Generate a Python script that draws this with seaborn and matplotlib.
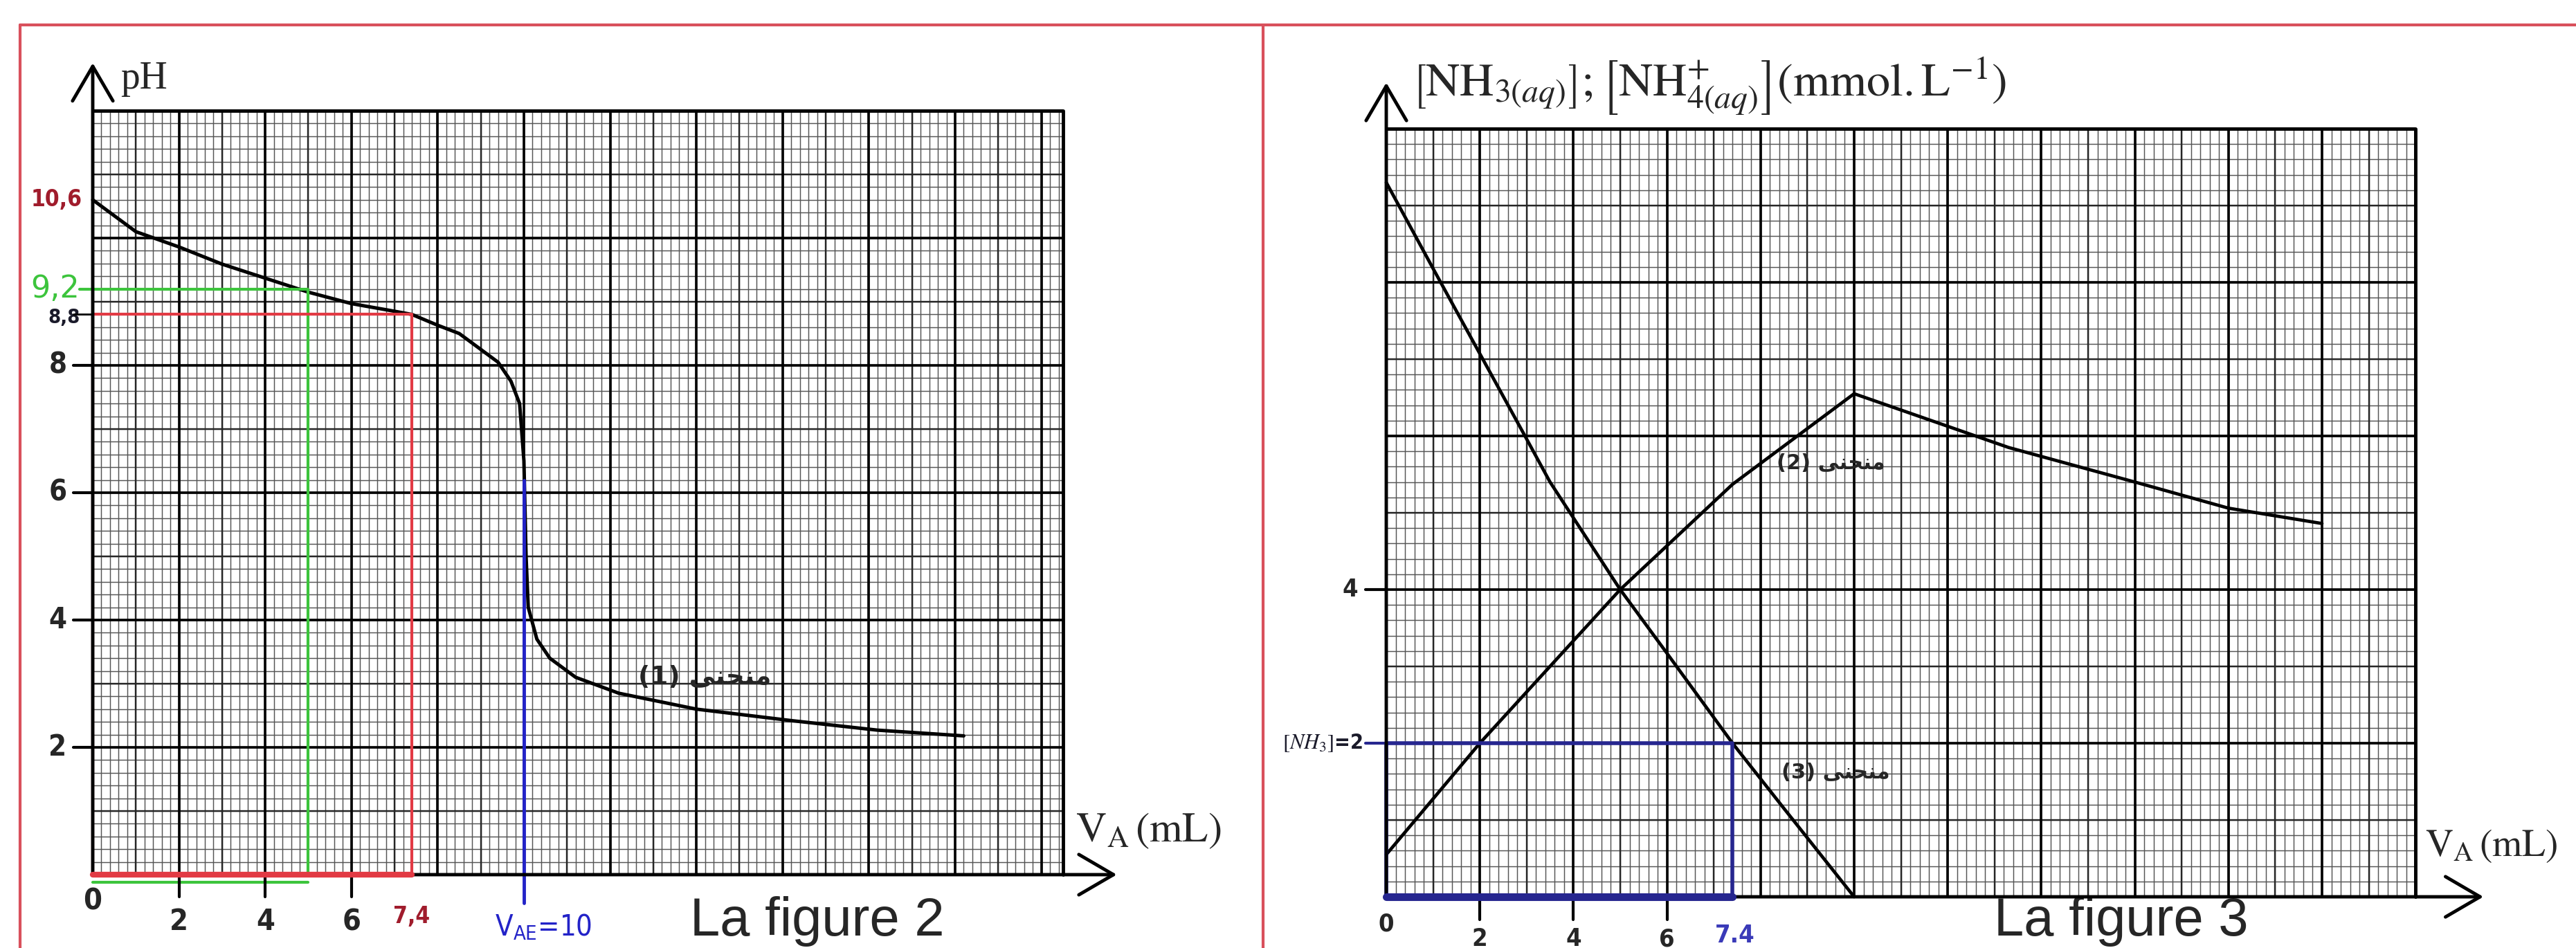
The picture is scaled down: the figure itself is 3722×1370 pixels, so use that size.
import numpy as np
import matplotlib
matplotlib.use("Agg")
import matplotlib.pyplot as plt
import seaborn as sns
import pandas as pd
from matplotlib.lines import Line2D

# --- figure 2 : pH = f(V_A) ---
v_ph = [0, 1, 2, 3, 4, 5, 6, 7, 7.4, 8, 8.5, 9, 9.4, 9.7, 9.9, 10.0, 10.05, 10.1,
        10.3, 10.6, 11.2, 12.2, 14, 16.2, 18.2, 20.2]
ph = [10.6, 10.1, 9.86, 9.59, 9.37, 9.15, 8.97, 8.85, 8.8, 8.63, 8.5, 8.25, 8.05,
      7.75, 7.4, 6.5, 5.0, 4.2, 3.7, 3.4, 3.1, 2.85, 2.6, 2.42, 2.27, 2.18]
ph_half, v_half = 9.2, 5
ph_mark, v_mark = 8.8, 7.4
v_eq = 10
ph_ticks = [2, 4, 6, 8]
v_ticks = [0, 2, 4, 6]

# --- figure 3 : [NH3] and [NH4+] = f(V_A) ---
v_nh3 = [0, 1, 2, 3, 3.5, 5, 6, 7.4, 8.5, 10]
c_nh3 = [9.3, 8.18, 7.07, 5.96, 5.4, 4.0, 3.17, 2.0, 1.15, 0.0]
v_nh4 = [0, 2, 5, 7.4, 10, 13.3, 16, 18, 20]
c_nh4 = [0.55, 2.0, 4.0, 5.37, 6.55, 5.85, 5.4, 5.06, 4.86]
c_mark, v_mark3 = 2, 7.4
c_ticks = [4]

sns.set_style("white")
plt.rcParams['font.family'] = ['DejaVu Sans']
plt.rcParams['mathtext.fontset'] = 'stix'

W, H = 3723, 1370
fig = plt.figure(figsize=(W / 100, H / 100), dpi=100)
fig.patch.set_facecolor('white')


def place(x0, y0, sx, sy, xlim, ylim):
    # x0, y0 = pixel of data origin (y from top), sx, sy = pixels per unit
    left = x0 + xlim[0] * sx
    right = x0 + xlim[1] * sx
    top = y0 - ylim[1] * sy
    bottom = y0 - ylim[0] * sy
    ax = fig.add_axes([left / W, 1 - bottom / H, (right - left) / W, (bottom - top) / H])
    ax.set_xlim(xlim)
    ax.set_ylim(ylim)
    ax.axis('off')
    return ax


def paper(ax, xmax, ymax):
    # millimetre paper: fine, medium and major lines
    for step, col, lw in [(0.2, '#555555', 1.05), (1, '#262626', 1.7), (2, '#000000', 2.6)]:
        xs = np.arange(0, xmax + 1e-6, step)
        ys = np.arange(0, ymax + 1e-6, step)
        ax.vlines(xs, 0, ymax, colors=col, lw=lw, zorder=1)
        ax.hlines(ys, 0, xmax, colors=col, lw=lw, zorder=1)
    ax.plot([0, xmax, xmax], [ymax, ymax, 0], color='k', lw=3.5, zorder=2)


def arrows(ax, xtip, ytip):
    props = dict(arrowstyle='->,head_length=0.6,head_width=0.35', lw=3.5, color='k',
                 mutation_scale=60, shrinkA=0, shrinkB=0)
    ax.annotate('', xy=(xtip, 0), xytext=(0, 0), arrowprops=props, zorder=6)
    ax.annotate('', xy=(0, ytip), xytext=(0, 0), arrowprops=props, zorder=6)


tick_font = dict(fontweight='bold', fontstretch='condensed', family='DejaVu Sans')
arabic = "\uFEF0\uFEE8\uFEA4\uFEE8\uFEE3"  # the word for "curve", in display order

# ---------------- left panel ----------------
ax1 = place(134, 1264, 62.3, 92.0, (-2.1, 26.5), (-1.2, 13.5))
paper(ax1, 22.5, 12)
arrows(ax1, 23.75, 12.75)

df1 = pd.DataFrame({'V': v_ph, 'pH': ph})
sns.lineplot(data=df1, x='V', y='pH', ax=ax1, color='k', lw=3.6, sort=False,
             estimator=None, zorder=4)
ax1.axis('off')

green, red, blue = '#3cc43c', '#e23a44', '#2323c8'
ax1.plot([0, v_half, v_half], [ph_half, ph_half, 0], color=green, lw=3, zorder=5)
ax1.plot([0, v_half], [-0.12, -0.12], color=green, lw=3, zorder=5)
ax1.plot([0, 0, v_mark, v_mark], [0, ph_mark, ph_mark, 0], color=red, lw=3, zorder=5)
ax1.plot([0, v_mark], [0, 0], color=red, lw=6, zorder=7)
ax1.plot([v_eq, v_eq], [6.2, -0.45], color=blue, lw=3.5, zorder=5)

for t in ph_ticks:
    ax1.plot([-0.45, 0], [t, t], color='k', lw=3, zorder=5)
    ax1.text(-0.6, t, str(t), ha='right', va='center', fontsize=30, **tick_font)
ax1.plot([-0.45, 0], [ph_mark, ph_mark], color='k', lw=2, zorder=5)
ax1.text(-0.3, ph_mark - 0.05, '8,8', ha='right', va='center', fontsize=21,
         color='#1a1a2a', **tick_font)
ax1.plot([-0.3, 0], [ph_half, ph_half], color=green, lw=3, zorder=5)
ax1.text(-0.3, ph_half, '9,2', ha='right', va='center', fontsize=32, color=green)
ax1.text(-0.25, 10.6, '10,6', ha='right', va='center', fontsize=24, color='#a01c2c',
         **tick_font)
for t in v_ticks:
    if t > 0:
        ax1.plot([t, t], [0, -0.35], color='k', lw=3, zorder=5)
    ax1.text(t, -0.42 if t == 0 else -0.74, str(t), ha='center', va='center',
             fontsize=31, **tick_font)
ax1.text(v_mark, -0.66, '7,4', ha='center', va='center', fontsize=24,
         color='#a01c2c', **tick_font)
ax1.text(v_eq + 0.45, -0.82, r'$\mathregular{V_{AE}}$=10', ha='center', va='center',
         fontsize=30, color=blue, family='DejaVu Sans', fontstretch='condensed')

ax1.text(0.65, 12.5, 'pH', ha='left', va='center', fontsize=40, family='Liberation Serif')
ax1.text(22.8, 0.7, r'$\mathrm{V_A\,(mL)}$', ha='left', va='center', fontsize=44)
ax1.text(14.2, 3.1, '(1) ' + arabic, ha='center', va='center', fontsize=27,
         fontweight='bold')
ax1.text(16.8, -0.96, 'La figure 2', ha='center', va='baseline', fontsize=56,
         family='Liberation Sans')

# ---------------- right panel ----------------
ax2 = place(2003, 1296, 67.6, 111.0, (-3.0, 25.5), (-0.7, 11.7))
paper(ax2, 22, 10)
arrows(ax2, 23.45, 10.6)

df2 = pd.concat([
    pd.DataFrame({'V': v_nh3, 'c': c_nh3, 'esp': 'NH3'}),
    pd.DataFrame({'V': v_nh4, 'c': c_nh4, 'esp': 'NH4'}),
])
sns.lineplot(data=df2, x='V', y='c', units='esp', estimator=None, sort=False, ax=ax2,
             color='k', lw=3.4, zorder=4)
ax2.axis('off')

navy = '#26268f'
ax2.plot([0, v_mark3, v_mark3], [c_mark, c_mark, 0], color=navy, lw=4, zorder=5)
ax2.plot([0, 0], [0, c_mark], color=navy, lw=4, zorder=5)
ax2.plot([0, v_mark3], [0, 0], color=navy, lw=8, zorder=7)

for t in c_ticks:
    ax2.plot([-0.45, 0], [t, t], color='k', lw=3, zorder=5)
    ax2.text(-0.6, t, str(t), ha='right', va='center', fontsize=26, **tick_font)
ax2.plot([-0.45, 0], [c_mark, c_mark], color=navy, lw=3, zorder=5)
ax2.text(-0.5, c_mark, r'$[NH_3]$=2', ha='right', va='center', fontsize=22,
         color='#1a1a2a', **tick_font)
for t in v_ticks:
    if t > 0:
        ax2.plot([t, t], [0, -0.3], color='k', lw=3, zorder=5)
    ax2.text(t, -0.36 if t == 0 else -0.55, str(t), ha='center', va='center',
             fontsize=26, **tick_font)
ax2.text(v_mark3 + 0.05, -0.5, '7.4', ha='center', va='center', fontsize=26,
         color='#3a3ab8', **tick_font)

ax2.text(0.55, 10.55,
         r'$\left[\mathrm{NH}_{3(aq)}\right];\left[\mathrm{NH}_{4(aq)}^{+}\right](\mathrm{mmol.L^{-1}})$',
         ha='left', va='center', fontsize=49)
ax2.text(22.2, 0.67, r'$\mathrm{V_A\,(mL)}$', ha='left', va='center', fontsize=40)
ax2.text(9.5, 5.64, '(2) ' + arabic, ha='center', va='center', fontsize=22,
         fontweight='bold')
ax2.text(9.6, 1.62, '(3) ' + arabic, ha='center', va='center', fontsize=22,
         fontweight='bold')
ax2.text(15.7, -0.5, 'La figure 3', ha='center', va='baseline', fontsize=56,
         family='Liberation Sans')

# red frame round the two figures
frame = '#d9505c'
for xs, ys in [([29, 29], [36, H]), ([29, W], [36, 36]), ([1825, 1825], [36, H])]:
    fig.add_artist(Line2D([x / W for x in xs], [1 - y / H for y in ys], color=frame, lw=3))

fig.savefig('out.png', dpi=100)
